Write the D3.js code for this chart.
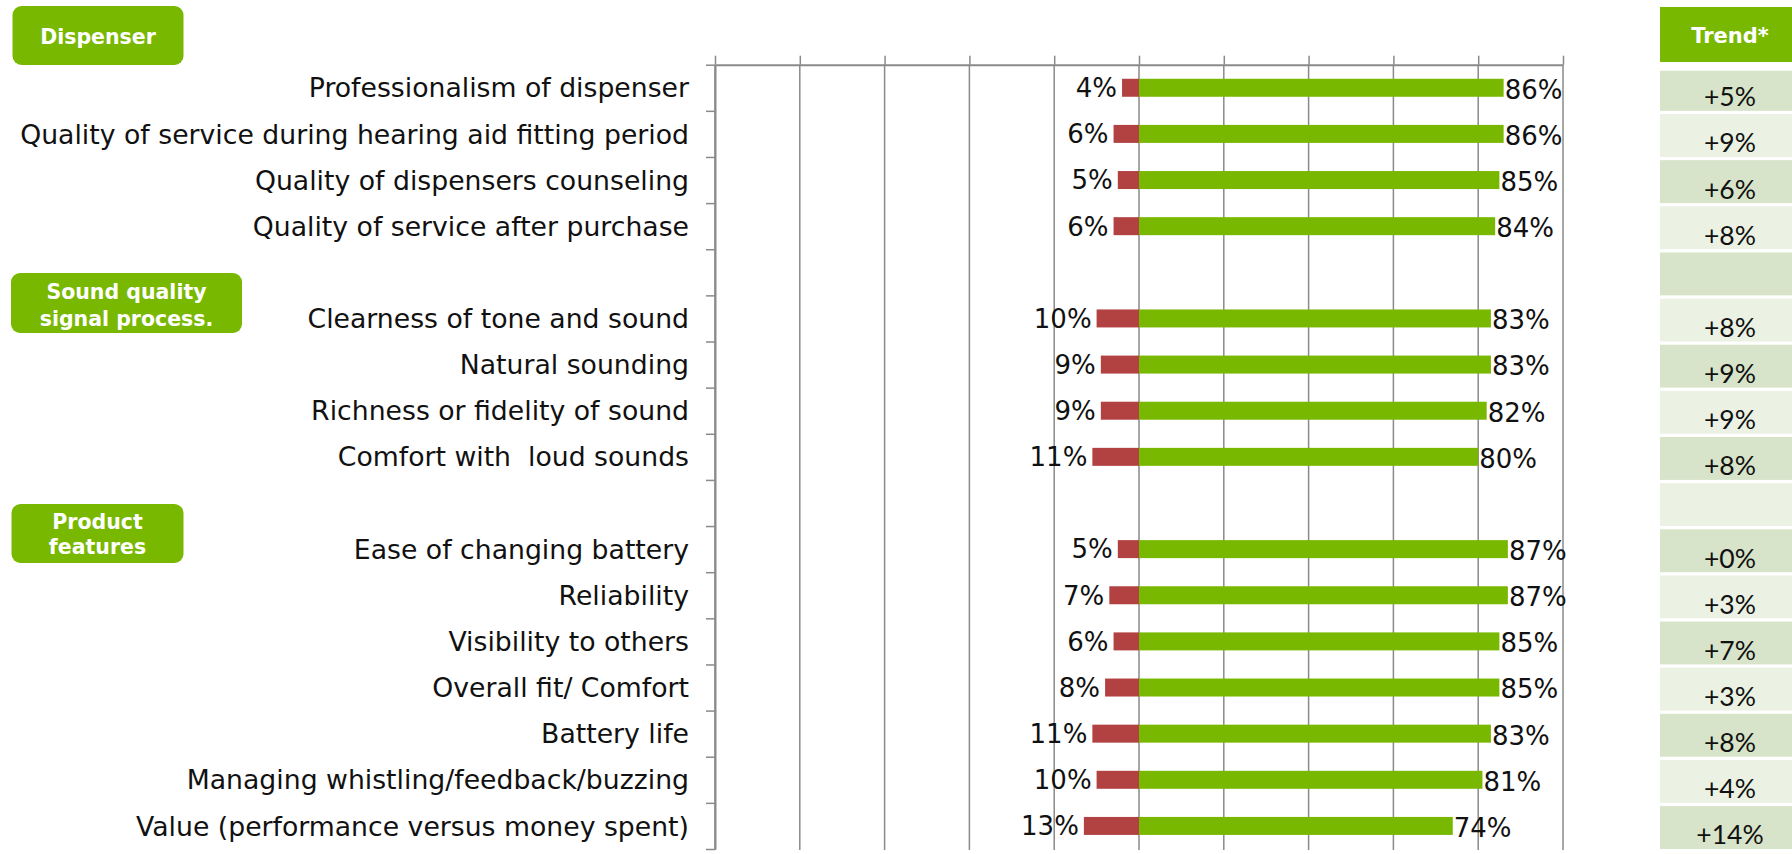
<!DOCTYPE html>
<html>
<head>
<meta charset="utf-8">
<script src="https://cdn.jsdelivr.net/npm/d3@7"></script>
<style>
  body { margin: 0; background: #ffffff; }
  svg { display: block; }
  svg text { white-space: pre; }
</style>
</head>
<body>
<svg id="chart" width="1792" height="854"></svg>
<script>
// Satisfaction items, grouped; empty strings are spacer rows between groups
const categories = [
  "Professionalism of dispenser",
  "Quality of service during hearing aid fitting period",
  "Quality of dispensers counseling",
  "Quality of service after purchase",
  "",
  "Clearness of tone and sound",
  "Natural sounding",
  "Richness or fidelity of sound",
  "Comfort with  loud sounds",
  "",
  "Ease of changing battery",
  "Reliability",
  "Visibility to others",
  "Overall fit/ Comfort",
  "Battery life",
  "Managing whistling/feedback/buzzing",
  "Value (performance versus money spent)"
];
// Share dissatisfied (drawn to the left of zero) and satisfied (to the right), in %
const dissatisfied = [4, 6, 5, 6, null, 10, 9, 9, 11, null, 5, 7, 6, 8, 11, 10, 13];
const satisfied    = [86, 86, 85, 84, null, 83, 83, 82, 80, null, 87, 87, 85, 85, 83, 81, 74];
// Change versus previous survey
const trend = ["+5%", "+9%", "+6%", "+8%", "", "+8%", "+9%", "+9%", "+8%", "",
               "+0%", "+3%", "+7%", "+3%", "+8%", "+4%", "+14%"];
const groupLabels = [["Dispenser"], ["Sound quality", "signal process."], ["Product", "features"]];
const xTickValues = d3.range(-100, 101, 20);
const trendTitle = "Trend*";

const svg = d3.select("#chart");
const GREEN = "#79b800", RED = "#b24242", GRID = "#8a8a8a";
const labelFont = "'DejaVu Sans', Verdana, sans-serif";

const plotTop = 64.7, plotBottom = 849;
const x = d3.scaleLinear().domain([-100, 100]).range([715, 1563]);
const rows = d3.range(categories.length);
const y = d3.scaleBand().domain(rows).range([plotTop, plotBottom]).paddingInner(0).paddingOuter(0);
const yEdge = d3.scaleLinear().domain([0, categories.length]).range([plotTop, plotBottom]);
const barH = y.bandwidth() * 0.39;

// Vertical gridlines
svg.append("g")
  .selectAll("line")
  .data(xTickValues)
  .join("line")
  .attr("x1", d => x(d)).attr("x2", d => x(d))
  .attr("y1", plotTop).attr("y2", plotBottom + 1)
  .attr("stroke", GRID).attr("stroke-width", 1.5);

// Value axis along the top, tick stubs only
const topAxis = svg.append("g")
  .attr("transform", `translate(0,${plotTop})`)
  .call(d3.axisTop(x).tickValues(xTickValues).tickFormat("").tickSize(9).tickSizeOuter(0));
topAxis.select(".domain").attr("stroke", GRID).attr("stroke-width", 2);
topAxis.selectAll(".tick line").attr("stroke", GRID).attr("stroke-width", 1.5);

// Category axis with ticks on row boundaries
const leftAxis = svg.append("g")
  .attr("transform", `translate(${x(-100)},0)`)
  .call(d3.axisLeft(yEdge).tickValues(d3.range(0, categories.length + 1)).tickFormat("").tickSize(9).tickSizeOuter(0));
leftAxis.select(".domain").attr("stroke", GRID).attr("stroke-width", 2);
leftAxis.selectAll(".tick line").attr("stroke", GRID).attr("stroke-width", 1.5);

// Category labels
svg.append("g")
  .selectAll("text")
  .data(rows.filter(i => categories[i] !== ""))
  .join("text")
  .attr("x", 689)
  .attr("y", i => y(i) + y.bandwidth() / 2)
  .attr("dy", "0.36em")
  .attr("text-anchor", "end")
  .attr("font-family", labelFont)
  .attr("font-size", 26.7)
  .attr("fill", "#111")
  .text(i => categories[i]);

const dataRows = rows.filter(i => satisfied[i] != null);

// Dissatisfied bars
svg.append("g")
  .selectAll("rect")
  .data(dataRows)
  .join("rect")
  .attr("x", i => x(-dissatisfied[i]))
  .attr("width", i => x(0) - x(-dissatisfied[i]))
  .attr("y", i => y(i) + (y.bandwidth() - barH) / 2)
  .attr("height", barH)
  .attr("fill", RED);

// Satisfied bars
svg.append("g")
  .selectAll("rect")
  .data(dataRows)
  .join("rect")
  .attr("x", x(0))
  .attr("width", i => x(satisfied[i]) - x(0))
  .attr("y", i => y(i) + (y.bandwidth() - barH) / 2)
  .attr("height", barH)
  .attr("fill", GREEN);

// Value labels
svg.append("g")
  .selectAll("text")
  .data(dataRows)
  .join("text")
  .attr("x", i => x(-dissatisfied[i]) - 5)
  .attr("y", i => y(i) + y.bandwidth() / 2)
  .attr("dy", "0.36em")
  .attr("text-anchor", "end")
  .attr("font-family", labelFont)
  .attr("font-size", 26)
  .attr("fill", "#111")
  .text(i => dissatisfied[i] + "%");

svg.append("g")
  .selectAll("text")
  .data(dataRows)
  .join("text")
  .attr("x", i => x(satisfied[i]) + 1)
  .attr("y", i => y(i) + y.bandwidth() / 2 + 1.5)
  .attr("dy", "0.36em")
  .attr("text-anchor", "start")
  .attr("font-family", labelFont)
  .attr("font-size", 26)
  .attr("fill", "#111")
  .text(i => satisfied[i] + "%");

// Group header boxes
const groupBoxes = [
  { x: 12.5, y: 6, w: 171, h: 59, lines: groupLabels[0], cy: [37] },
  { x: 11, y: 273, w: 231, h: 60, lines: groupLabels[1], cy: [291.7, 318.3] },
  { x: 11.5, y: 504, w: 172, h: 59, lines: groupLabels[2], cy: [521.7, 546.7] }
];
const gb = svg.append("g").selectAll("g").data(groupBoxes).join("g");
gb.append("rect")
  .attr("x", d => d.x).attr("y", d => d.y)
  .attr("width", d => d.w).attr("height", d => d.h)
  .attr("rx", 9).attr("fill", GREEN);
gb.each(function(d) {
  d3.select(this).selectAll("text")
    .data(d.lines.map((t, k) => ({ t, cy: d.cy[k], cx: d.x + d.w / 2 })))
    .join("text")
    .attr("x", e => e.cx)
    .attr("y", e => e.cy)
    .attr("dy", "0.36em")
    .attr("text-anchor", "middle")
    .attr("font-family", labelFont)
    .attr("font-weight", "bold")
    .attr("font-size", 20.5)
    .attr("fill", "#fff")
    .text(e => e.t);
});

// Trend column
const trendX = 1660, trendW = 140;
svg.append("rect")
  .attr("x", trendX).attr("y", 7).attr("width", trendW).attr("height", 55)
  .attr("fill", GREEN);
svg.append("text")
  .attr("x", 1730).attr("y", 35.8).attr("dy", "0.36em")
  .attr("text-anchor", "middle")
  .attr("font-family", labelFont)
  .attr("font-weight", "bold")
  .attr("font-size", 21)
  .attr("fill", "#fff")
  .text(trendTitle);

svg.append("g")
  .selectAll("rect")
  .data(rows)
  .join("rect")
  .attr("x", trendX)
  .attr("y", i => i === 0 ? y(i) + 6 : y(i) + 3.2)
  .attr("width", trendW)
  .attr("height", i => i === 0 ? y.bandwidth() - 6 : y.bandwidth() - 3.2)
  .attr("fill", i => i % 2 === 0 ? "#d7e4c9" : "#ebf2e4");

svg.append("g")
  .selectAll("text")
  .data(rows.filter(i => trend[i] !== ""))
  .join("text")
  .attr("x", 1730)
  .attr("y", i => y(i) + y.bandwidth() / 2 + 9)
  .attr("dy", "0.36em")
  .attr("text-anchor", "middle")
  .attr("font-family", "Lato, Carlito, Calibri, sans-serif")
  .attr("font-size", 26.5)
  .attr("fill", "#111")
  .text(i => trend[i]);
</script>
</body>
</html>
